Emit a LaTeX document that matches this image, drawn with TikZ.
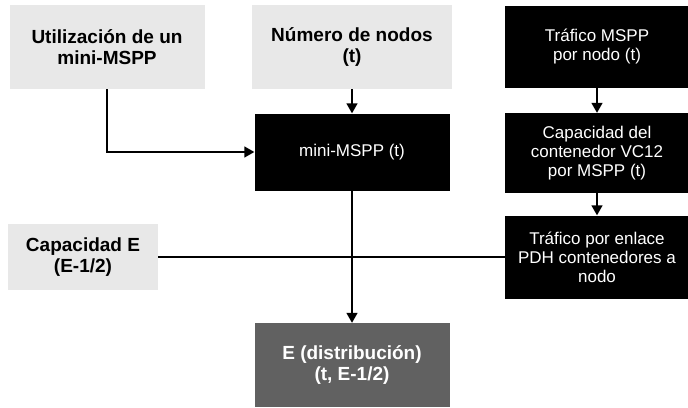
\documentclass[tikz,border=0pt]{standalone}
\usepackage{fontspec}
\setmainfont{Liberation Sans}
\usetikzlibrary{arrows.meta}
\begin{document}
\begin{tikzpicture}[
        x=1pt, y=-1pt,
        grayn/.style={fill=gray!18, text=black, font=\fontsize{19}{21}\selectfont\bfseries},
        darkn/.style={fill=black, text=white, font=\fontsize{17}{19}\selectfont},
        distn/.style={fill=black!62, text=white, font=\fontsize{19}{21}\selectfont\bfseries},
        every node/.style={align=center, inner sep=2pt},
        arr/.style={draw, line width=1.5pt, -{Triangle[length=10pt, width=11pt]}},
        plain/.style={draw, line width=1.5pt},
    ]
    \useasboundingbox (0,0) rectangle (688,407);
    \node[grayn, minimum width=195pt, minimum height=84pt](util) at (107,47){Utilización de un\\mini-MSPP};
    \node[grayn, minimum width=200pt, minimum height=84pt](nodos) at (352,47){Número de nodos\\(t)};
    \node[darkn, minimum width=184pt, minimum height=82pt](trafico) at (597,47){Tráfico MSPP\\por nodo (t)};
    \node[darkn, minimum width=195pt, minimum height=77pt](mini) at (352,152){mini-MSPP (t)};
    \node[darkn, minimum width=184pt, minimum height=80pt](capcont) at (597,153){Capacidad del\\contenedor VC12\\por MSPP (t)};
    \node[darkn, minimum width=184pt, minimum height=83pt](enlace) at (597,257){Tráfico por enlace\\PDH contenedores a\\nodo};
    \node[grayn, minimum width=150pt, minimum height=66pt](capE) at (83,257){Capacidad E\\(E-1/2)};
    \node[distn, minimum width=195pt, minimum height=84pt](dist) at (352,365){E (distribución)\\(t, E-1/2)};
    % connectors
    \draw[arr] (nodos) -- (mini);
    \draw[arr] (util.south) |- (mini.west);
    \draw[arr] (trafico) -- (capcont);
    \draw[arr] (capcont) -- (enlace);
    \draw[arr] (mini) -- (dist);
    \draw[plain] (capE.east) -- (enlace.west);
\end{tikzpicture}
\end{document}
